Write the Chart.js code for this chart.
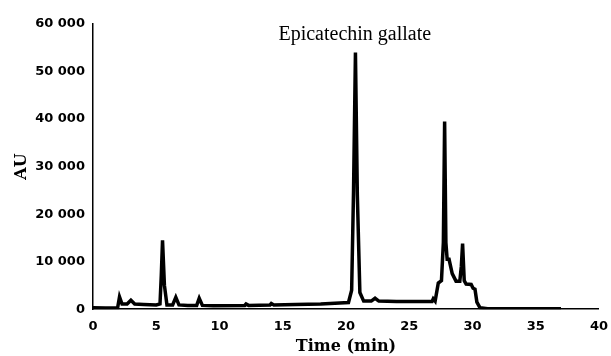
<!DOCTYPE html>
<html>
<head>
<meta charset="utf-8">
<script src="https://cdn.jsdelivr.net/npm/chart.js@4/dist/chart.umd.min.js"></script>
<style>
  html, body { margin: 0; padding: 0; background: #fff; overflow: hidden; }
  canvas { display: block; }
</style>
</head>
<body>
<canvas id="myChart" width="611" height="356"></canvas>
<script>
// retention time (min) and detector response (AU)
var timeMin = [0, 1, 1.95, 2.1, 2.3, 2.7, 3.0, 3.3, 4.0, 5.0, 5.3, 5.4, 5.5, 5.65, 5.85, 6.3, 6.55, 6.8, 7.5, 8.2, 8.4, 8.65, 9.5, 12, 12.1, 12.3, 14, 14.1, 14.3, 16, 18, 19.5, 20.2, 20.45, 20.6, 20.75, 20.9, 21.1, 21.4, 22.0, 22.3, 22.6, 24, 26, 26.8, 26.9, 27.05, 27.3, 27.55, 27.7, 27.8, 27.9, 28.0, 28.15, 28.4, 28.7, 29.0, 29.12, 29.22, 29.35, 29.5, 29.9, 30.05, 30.2, 30.35, 30.6, 31.2, 33, 35, 37];
var auValues = [300, 250, 300, 2600, 1100, 1100, 1900, 1100, 1000, 900, 1100, 7000, 14500, 5000, 900, 900, 2500, 900, 800, 800, 2300, 800, 700, 800, 1100, 800, 900, 1200, 900, 1000, 1100, 1300, 1400, 4000, 25000, 54000, 24000, 3500, 1700, 1700, 2300, 1700, 1600, 1600, 1600, 2200, 1700, 5500, 6000, 14000, 39500, 14000, 10500, 10500, 7500, 5900, 5900, 9000, 13800, 6000, 5300, 5200, 4400, 4200, 1500, 300, 100, 100, 100, 100];
var xTicks = [0, 5, 10, 15, 20, 25, 30, 35, 40];
var yTicks = [0, 10000, 20000, 30000, 40000, 50000, 60000];

var points = [];
for (let i = 0; i < timeMin.length; i++) {
    points.push({ x: timeMin[i], y: auValues[i] });
}

// peak label above the big peak
const peakLabel = {
    id: 'peakLabel',
    afterDatasetsDraw(chart) {
        const ctx = chart.ctx;
        const x = chart.scales.x.getPixelForValue(20.7);
        ctx.save();
        ctx.font = '20px "Liberation Serif"';
        ctx.fillStyle = '#000';
        ctx.textAlign = 'center';
        ctx.textBaseline = 'alphabetic';
        ctx.fillText('Epicatechin gallate', x, 40);
        ctx.restore();
    }
};

const tickFont = { family: 'DejaVu Sans', size: 13, weight: 'bold' };
const xTitleFont = { family: 'DejaVu Serif', size: 16, weight: 'bold' };
const yTitleFont = { family: 'DejaVu Serif', size: 16, weight: 'bold', lineHeight: 0.7 };

const abc = document.getElementById('myChart');
const myChart = new Chart(abc, {
    type: 'line',
    data: {
        datasets: [{
            label: 'AU',
            data: points,
            borderColor: '#000',
            borderWidth: 3.5,
            pointRadius: 0,
            tension: 0,
            fill: false
        }]
    },
    options: {
        responsive: false,
        animation: false,
        layout: { padding: { top: 24, right: 0, left: 14, bottom: 0 } },
        plugins: {
            legend: { display: false },
            tooltip: { enabled: false }
        },
        scales: {
            x: {
                type: 'linear',
                min: 0,
                max: 40,
                // no tick marks drawn, but keep a gap below the axis line
                grid: { display: false, drawTicks: true, tickLength: 7 },
                border: { display: true, color: '#000', width: 1.5 },
                afterBuildTicks: (axis) => { axis.ticks = xTicks.map(v => ({ value: v })); },
                ticks: { color: '#000', font: tickFont, padding: 3, maxRotation: 0 },
                title: { display: true, text: 'Time (min)', color: '#000', font: xTitleFont, padding: { top: -1, bottom: 0 } }
            },
            y: {
                min: 0,
                max: 60000,
                grid: { display: false, drawTicks: false },
                border: { display: true, color: '#000', width: 1.5 },
                afterBuildTicks: (axis) => { axis.ticks = yTicks.map(v => ({ value: v })); },
                ticks: {
                    color: '#000',
                    font: tickFont,
                    padding: 8,
                    callback: (v) => String(v).replace(/\B(?=(\d{3})+(?!\d))/g, ' ')
                },
                title: { display: true, text: 'AU', color: '#000', font: yTitleFont, padding: { top: 2, bottom: 0 } }
            }
        }
    },
    plugins: [peakLabel]
});
</script>
</body>
</html>
